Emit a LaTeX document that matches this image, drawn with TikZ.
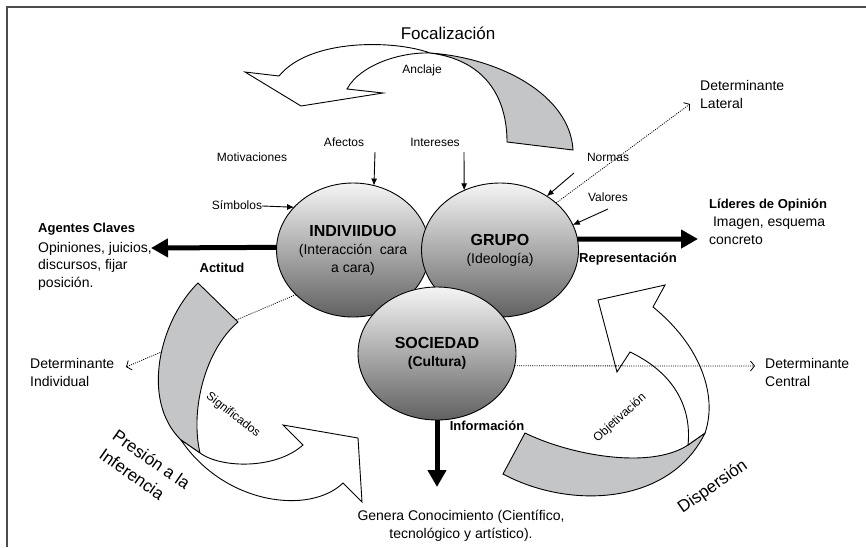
\documentclass[tikz,border=0pt]{standalone}
\usepackage{fontspec}
\setmainfont{Liberation Sans}
\usetikzlibrary{arrows.meta,shapes.geometric}
\definecolor{ribbon}{RGB}{196,197,199}

\begin{document}
\begin{tikzpicture}[
	x=1pt, y=-1pt,
	circ/.style={
		ellipse,
		draw=black,
		line width=0.9pt,
		inner sep=0pt,
		outer sep=0pt,
		top color=white!96!black,
		bottom color=black!62,
		align=center,
		font=\fontsize{14}{18}\selectfont
		},
	lbl/.style={
		font=\fontsize{12}{14}\selectfont,
		inner sep=0pt
	},
	txt/.style={
		font=\fontsize{14}{17.5}\selectfont,
		align=left,
		inner sep=0pt
	},
	head/.style={
		font=\fontsize{13}{15}\selectfont\bfseries,
		inner sep=0pt
	},
	big/.style={
		font=\fontsize{17}{23}\selectfont,
		inner sep=0pt
	},
	thin/.style={line width=0.9pt, -{Latex[length=7pt,width=6pt]}},
	thick/.style={line width=5pt, -{Triangle[length=17pt,width=18pt]}},
	dots/.style={line width=0.8pt, dash pattern=on 1pt off 1.2pt, -{Straight Barb[length=4pt,width=10pt]}},
	band/.style={draw=black, line width=0.9pt, line join=miter}
]
\useasboundingbox (0,0) rectangle (866,547);

% Frame
\draw[line width=1.4pt, black!70] (7,547) -- (7,7) -- (866,7);

% Levels
\node [circ, minimum width=150pt, minimum height=134pt] (ind) at (353,250)
	{\textbf{\fontsize{16}{18}\selectfont INDIVIIDUO}\\(Interacción~ cara\\a cara)};
\node [circ, minimum width=157pt, minimum height=134pt] (grp) at (500,250)
	{\textbf{\fontsize{16}{18}\selectfont GRUPO}\\(Ideología)};
\node [circ, minimum width=158pt, minimum height=133pt] (soc) at (437,353.5)
	{\textbf{\fontsize{16}{18}\selectfont SOCIEDAD}\\\textbf{(Cultura)}};

% Labels
\node [big] (foc) at (448,33) {Focalización};
\node [lbl] (anc) at (422,70) {Anclaje};
\node [lbl] (mot) at (252,157) {Motivaciones};
\node [lbl] (afe) at (344,142) {Afectos};
\node [lbl] (int) at (435,142) {Intereses};
\node [lbl] (sim) at (237,205) {Símbolos};
\node [lbl] (nor) at (608,157) {Normas};
\node [lbl] (val) at (608,197) {Valores};
\node [head, anchor=west] (age) at (38,229) {Agentes Claves};
\node [txt, anchor=west] (opi) at (38,266) {Opiniones, juicios,\\discursos, fijar\\posición.};
\node [head] (act) at (222,268) {Actitud};
\node [head, anchor=west] (lid) at (709,205) {Líderes de Opinión};
\node [txt, anchor=west] (ima) at (709,230.5) {\ Imagen, esquema\\concreto};
\node [head] (rep) at (628,259) {Representación};
\node [head] (inf) at (487,426) {Información};
\node [txt, align=center] (gen) at (461,526) {Genera Conocimiento (Científico,\\tecnológico y artístico).};
\node [txt, anchor=west] (dlat) at (700,94.5) {Determinante\\Lateral};
\node [txt, anchor=west] (dind) at (30,372.5) {Determinante\\Individual};
\node [txt, anchor=west] (dcen) at (765,372.5) {Determinante\\Central};
\node [big, rotate=-35, align=left] (pre) at (145,469) {Presión a la\\Inferencia};
\node [big, rotate=35] (dis) at (713,487) {Dispersión};

% Free ends
\coordinate (afeS) at (375,152);
\coordinate (intS) at (464,152);
\coordinate (norS) at (574,173);
\coordinate (valS) at (608,209);
\coordinate (ageT) at (151,248);
\coordinate (lidT) at (698,239);
\coordinate (infT) at (437,487);
\coordinate (latT) at (690,104);
\coordinate (indT) at (126,367);
\coordinate (cenT) at (755,366);

% Connectors
\draw [thin] (afeS) -- (ind.72);
\draw [thin] (intS) -- (grp.121);
\draw [thin] (norS) -- (grp.49);
\draw [thin] (valS) -- (grp.19);
\draw [thin] (sim) -- (ind.144);
\draw [thick] (ind.178) -- (ageT);
\draw [thick] (grp.8) -- (lidT);
\draw [thick] (soc.south) -- (infT);
\draw [dots] (grp.40) -- (latT);
\draw [dots] (ind.218) -- (indT);

% Ribbon arrows
\coordinate (fX) at (430,53);
\draw [band, fill=ribbon] (fX) .. controls (500,58) and (570,95) .. (573,150)
	-- (507,142) .. controls (507,97) and (485,60) .. (fX) -- cycle;
\draw [band, fill=white] (fX) .. controls (395,40) and (310,38) .. (279,76)
	-- (245,72) -- (301,106) -- (383,93) -- (347,89) .. controls (360,65) and (400,52) .. (fX) -- cycle;

\draw [band, fill=ribbon] (198,283) -- (238,322) .. controls (205,350) and (190,410) .. (200,453)
	-- (181,440) .. controls (140,400) and (160,320) .. (198,283) -- cycle;
\draw [band, fill=white] (200,453) .. controls (220,468) and (275,470) .. (303,445)
	-- (283,425) -- (358,438) -- (362,502) -- (343,483) .. controls (310,515) and (225,505) .. (181,440) -- cycle;

\draw [band, fill=ribbon] (525,433) .. controls (570,455) and (650,470) .. (688,445)
	-- (705,433) .. controls (670,505) and (570,510) .. (503,474) -- cycle;
\draw [band, fill=white] (688,445) .. controls (692,405) and (672,372) .. (630,352)
	-- (617,372) -- (598,300) -- (665,285) -- (653,307) .. controls (700,345) and (718,395) .. (705,433) -- cycle;

\draw [dots] (soc.-9) -- (cenT);

\node [lbl, rotate=-38] (sig) at (233,415) {Significados};
\node [lbl, rotate=42] (obj) at (620,418) {Objetivación};

\end{tikzpicture}
\end{document}
